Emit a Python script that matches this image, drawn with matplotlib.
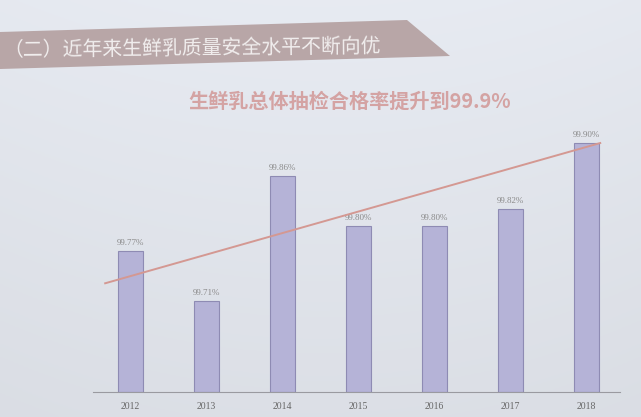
import matplotlib
matplotlib.use("Agg")
import matplotlib.pyplot as plt
from matplotlib.patches import Polygon
import numpy as np

years = ["2012", "2013", "2014", "2015", "2016", "2017", "2018"]
rates = [99.77, 99.71, 99.86, 99.80, 99.80, 99.82, 99.90]
rate_labels = ["99.77%", "99.71%", "99.86%", "99.80%", "99.80%", "99.82%", "99.90%"]
trend_x = [-0.33, 6.18]
trend_y = [99.731, 99.900]
banner_text = "（二）近年来生鲜乳质量安全水平不断向优"
title_text = "生鲜乳总体抽检合格率提升到99.9%"

cjk = ["Noto Sans CJK SC", "DejaVu Sans"]
plt.rcParams["font.family"] = cjk

W, H = 641, 417
fig = plt.figure(figsize=(W / 100, H / 100), dpi=100)
fig.patch.set_facecolor("#dde1e6")

# subtle background gradient
bg = fig.add_axes([0, 0, 1, 1], zorder=-10)
gy = np.linspace(0, 1, 200)[:, None]
gx = np.linspace(0, 1, 200)[None, :]
grad = 0.925 - 0.045 * gy - 0.03 * (gx - 0.5) ** 2
bg.imshow(np.dstack([grad * 0.98, grad * 0.995, grad * 1.025]).clip(0, 1),
          extent=[0, 1, 0, 1], aspect="auto", origin="upper")
bg.set_axis_off()

# banner ribbon (pixel coords converted to figure fraction)
pts = [(0, 32), (407, 20), (450, 56), (0, 69)]
poly = Polygon([(x / W, 1 - y / H) for x, y in pts], closed=True,
               facecolor="#b8a6a7", edgecolor="none", transform=fig.transFigure)
fig.patches.append(poly)
fig.text(3 / W, 1 - 48 / H, banner_text, color="#f1eeee", fontsize=14.3,
         va="center", ha="left", family=cjk, rotation=0.6)

fig.text(350 / W, 1 - 101 / H, title_text, color="#d4a3a3", fontsize=14.5,
         fontweight="bold", ha="center", va="center", family=cjk)

ax = fig.add_axes([93 / W, 25 / H, 527 / W, 262 / H])
ax.set_facecolor("none")
x = np.arange(len(years))
ax.bar(x, [r - 99.6 for r in rates], bottom=99.6, width=0.33,
       color="#b5b3d7", edgecolor="#8e8bb3", linewidth=0.8, zorder=2)
for xi, r, lab in zip(x, rates, rate_labels):
    ax.text(xi, r + 0.005, lab, ha="center", va="bottom", fontsize=6.5,
            color="#8a8a8a", family="Liberation Serif")
ax.plot(trend_x, trend_y, color="#d49892", linewidth=1.4, zorder=3)

ax.set_xlim(-0.49, 6.44)
ax.set_ylim(99.6, 99.9157)
ax.set_xticks(x)
ax.set_xticklabels(years, family="Liberation Serif", fontsize=7, color="#666666")
ax.tick_params(axis="x", length=0, pad=7)
ax.set_yticks([])
for s in ["top", "right", "left"]:
    ax.spines[s].set_visible(False)
ax.spines["bottom"].set_color("#9a9aa0")
ax.spines["bottom"].set_linewidth(0.8)

fig.savefig("out.png", dpi=100)
